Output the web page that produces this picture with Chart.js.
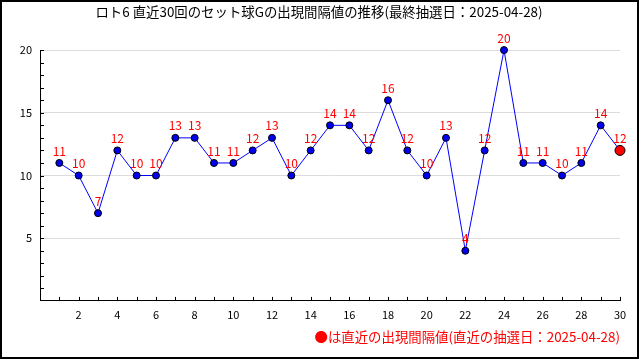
<!DOCTYPE html>
<html>
<head>
<meta charset="utf-8">
<script src="https://cdn.jsdelivr.net/npm/chart.js@4/dist/chart.umd.min.js"></script>
<style>
html,body{margin:0;padding:0;background:#fff;}
#wrap{width:640px;height:360px;position:relative;}
</style>
</head>
<body>
<div id="wrap"><canvas id="c" width="640" height="360"></canvas></div>
<script>
// ---- data ----
const draws = [1,2,3,4,5,6,7,8,9,10,11,12,13,14,15,16,17,18,19,20,21,22,23,24,25,26,27,28,29,30];
const intervals = [11,10,7,12,10,10,13,13,11,11,12,13,10,12,14,14,12,16,12,10,13,4,12,20,11,11,10,11,14,12];
const yLabelValues = [5,10,15,20];
const xLabelValues = [2,4,6,8,10,12,14,16,18,20,22,24,26,28,30];
const titleText = 'ロト6 直近30回のセット球Gの出現間隔値の推移(最終抽選日：2025-04-28)';
const noteText = '●は直近の出現間隔値(直近の抽選日：2025-04-28)';

const FONT = '"Noto Sans CJK JP", "DejaVu Sans", sans-serif';
const lastIdx = intervals.length - 1;

const frame = {
  id: 'frame',
  beforeDraw(chart) {
    const c = chart.ctx;
    c.save();
    c.fillStyle = '#fff';
    c.fillRect(0, 0, chart.width, chart.height);
    c.restore();
  },
  afterDraw(chart) {
    const c = chart.ctx;
    c.save();
    c.strokeStyle = '#000';
    c.lineWidth = 2;
    c.strokeRect(1, 1, 637, 357);
    c.restore();
  }
};

const innerTicks = {
  id: 'innerTicks',
  afterDraw(chart) {
    const c = chart.ctx, a = chart.chartArea;
    const xs = chart.scales.x, ys = chart.scales.y;
    c.save();
    c.strokeStyle = '#000';
    c.lineWidth = 1;
    c.beginPath();
    ys.ticks.forEach(t => {
      if (t.value <= 0) return;
      const y = Math.round(ys.getPixelForValue(t.value)) + 0.5;
      c.moveTo(a.left, y); c.lineTo(a.left + 4, y);
    });
    xs.ticks.forEach(t => {
      if (t.value <= 0) return;
      const x = Math.round(xs.getPixelForValue(t.value)) + 0.5;
      c.moveTo(x, a.bottom); c.lineTo(x, a.bottom - 4);
    });
    c.stroke();
    c.restore();
  }
};

const valueLabels = {
  id: 'valueLabels',
  afterDatasetsDraw(chart) {
    const c = chart.ctx;
    const meta = chart.getDatasetMeta(0);
    c.save();
    c.fillStyle = '#ff0000';
    c.font = '12px ' + FONT;
    c.textAlign = 'center';
    c.textBaseline = 'middle';
    meta.data.forEach((p, i) => {
      c.fillText(String(intervals[i]), p.x, p.y - 12);
    });
    c.restore();
  }
};

new Chart(document.getElementById('c'), {
  type: 'line',
  data: {
    datasets: [{
      data: draws.map((d, i) => ({x: d, y: intervals[i]})),
      borderColor: '#0000ff',
      borderWidth: 1,
      tension: 0,
      clip: false,
      pointBackgroundColor: ctx => ctx.dataIndex === lastIdx ? '#ff0000' : '#0000ee',
      pointBorderColor: '#000',
      pointBorderWidth: 1,
      pointRadius: ctx => ctx.dataIndex === lastIdx ? 5 : 3.5,
      pointHoverRadius: ctx => ctx.dataIndex === lastIdx ? 5 : 3.5
    }]
  },
  options: {
    responsive: false,
    animation: false,
    devicePixelRatio: 1,
    layout: { padding: { left: 18, right: 20, top: 0, bottom: 3 } },
    plugins: {
      legend: { display: false },
      tooltip: { enabled: false },
      title: {
        display: true,
        text: titleText,
        color: '#000',
        font: { family: FONT, size: 13.4, weight: 'normal', lineHeight: 1.2 },
        padding: { top: 4, bottom: 30 }
      },
      subtitle: {
        display: true,
        position: 'bottom',
        align: 'end',
        text: noteText,
        color: '#ff0000',
        font: { family: FONT, size: 13.4, weight: 'normal', lineHeight: 1.2 },
        padding: { top: 4, bottom: 12 }
      }
    },
    scales: {
      x: {
        type: 'linear',
        min: 0, max: 30,
        afterFit: s => { s.height = 24; },
        ticks: {
          stepSize: 1,
          autoSkip: false,
          maxRotation: 0,
          padding: 7,
          color: '#000',
          font: { family: FONT, size: 11 },
          callback: v => xLabelValues.includes(v) ? String(v) : ''
        },
        grid: { drawOnChartArea: false, drawTicks: false },
        border: { display: true, color: '#000', width: 1 }
      },
      y: {
        type: 'linear',
        min: 0, max: 20,
        afterFit: s => { s.width = 22; },
        ticks: {
          stepSize: 1,
          autoSkip: false,
          padding: 8,
          color: '#000',
          font: { family: FONT, size: 11 },
          callback: v => yLabelValues.includes(v) ? String(v) : ''
        },
        grid: {
          drawTicks: false,
          color: ctx => (ctx.tick && yLabelValues.includes(ctx.tick.value)) ? '#dcdcdc' : 'rgba(0,0,0,0)'
        },
        border: { display: true, color: '#000', width: 1 }
      }
    }
  },
  plugins: [frame, innerTicks, valueLabels]
});
</script>
</body>
</html>
